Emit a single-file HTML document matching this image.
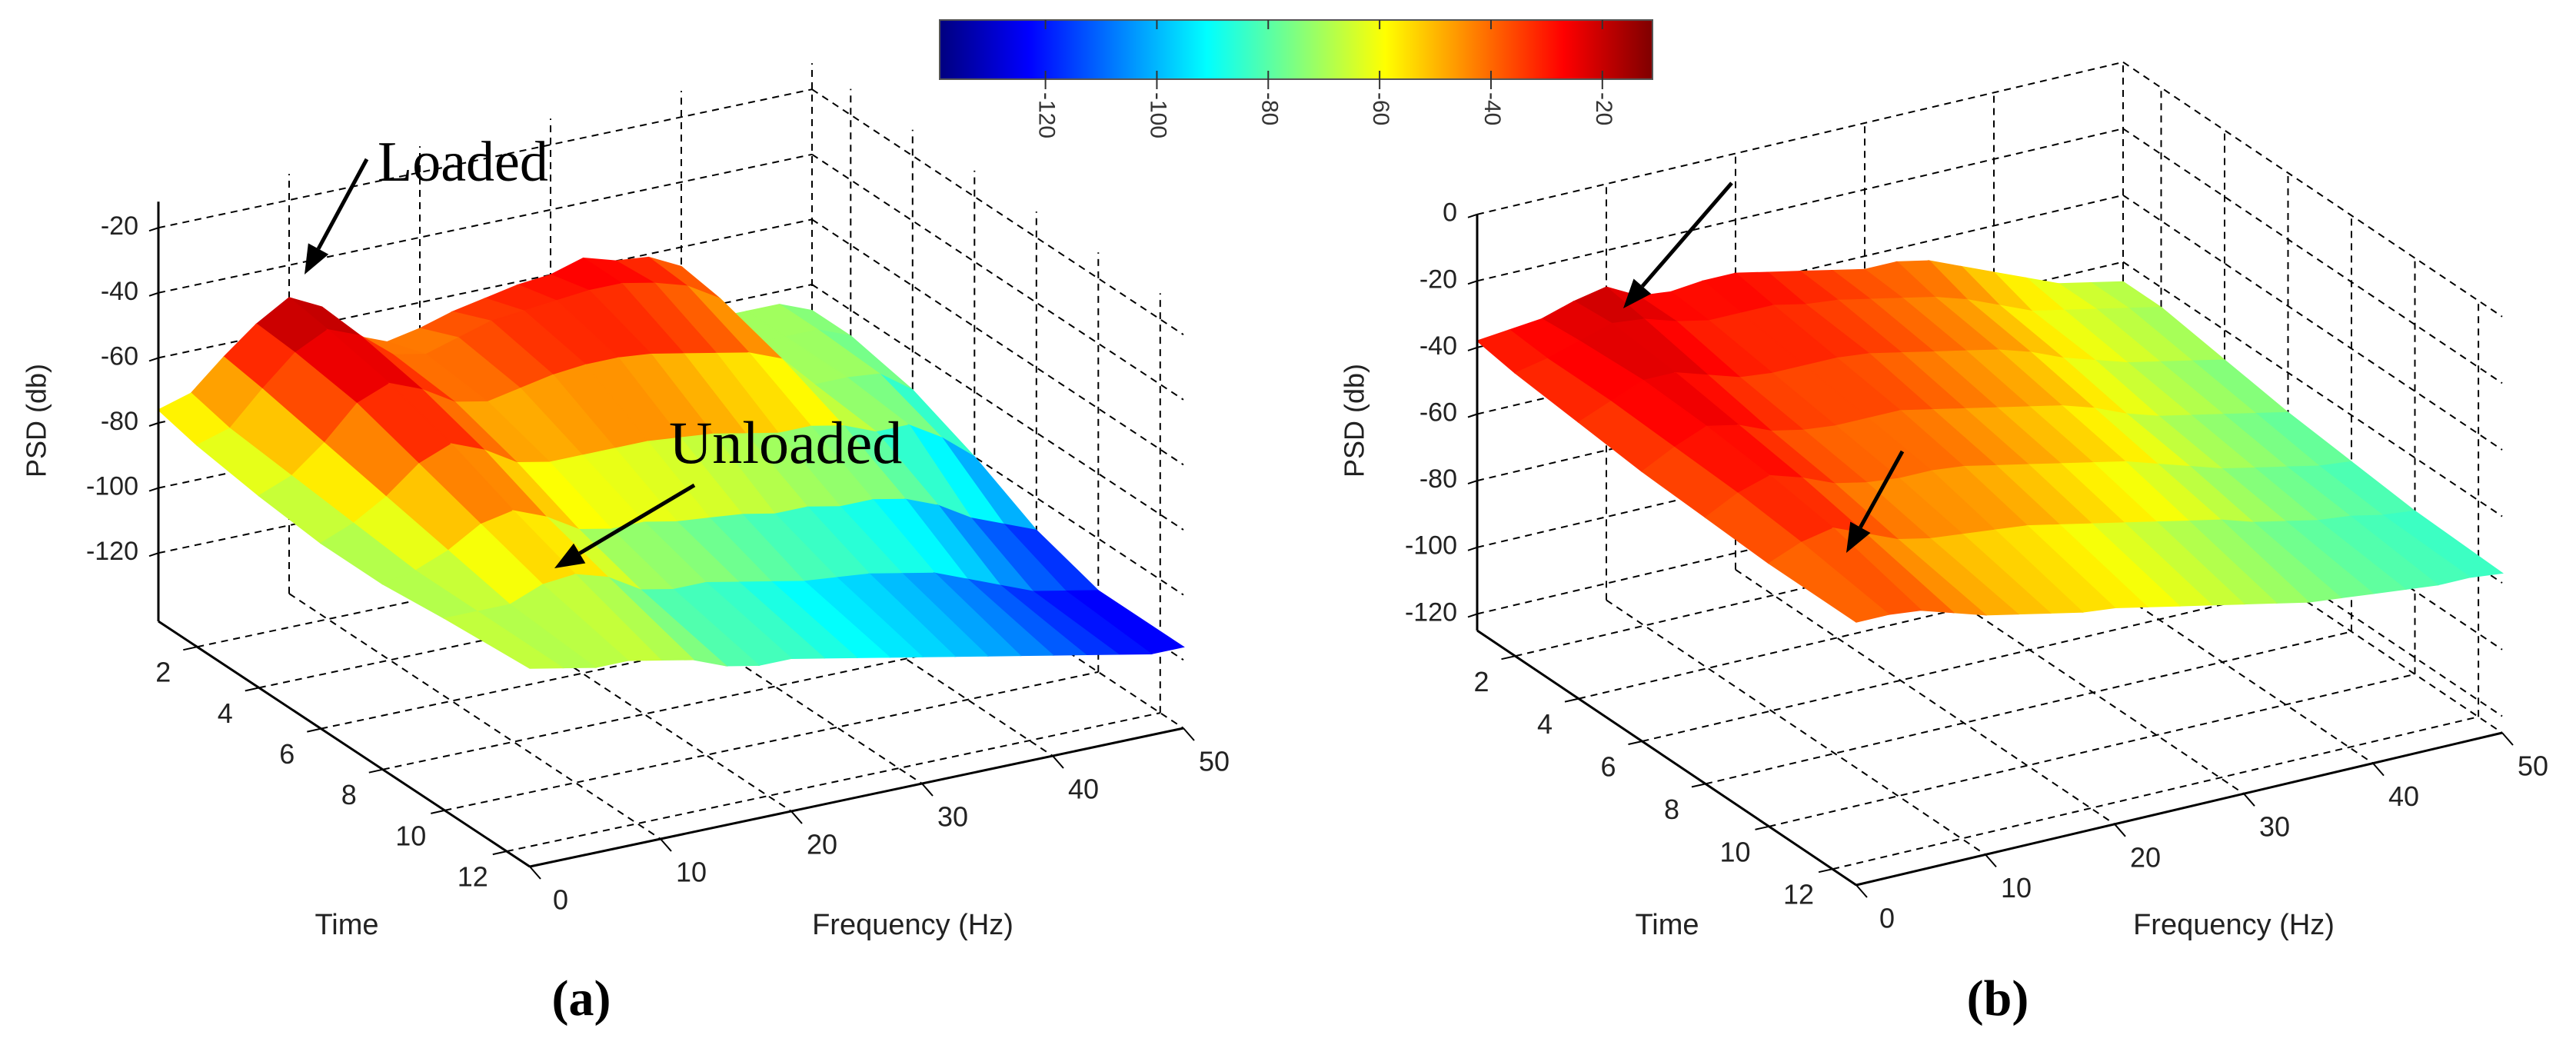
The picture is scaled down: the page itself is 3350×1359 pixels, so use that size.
<!DOCTYPE html>
<html><head><meta charset="utf-8">
<style>
html,body{margin:0;padding:0;background:#fff;}
svg{display:block;font-family:"Liberation Sans",Arial,sans-serif;}
</style></head>
<body>
<svg id="fig" width="3350" height="1359" viewBox="0 0 3350 1359" xmlns="http://www.w3.org/2000/svg">
<defs>
<linearGradient id="jet" x1="0" x2="1" y1="0" y2="0">
<stop offset="0" stop-color="#00007f"/><stop offset="0.125" stop-color="#0000ff"/>
<stop offset="0.375" stop-color="#00ffff"/><stop offset="0.625" stop-color="#ffff00"/>
<stop offset="0.875" stop-color="#ff0000"/><stop offset="1" stop-color="#7f0000"/>
</linearGradient>
</defs>
<g id="colorbar">
<rect x="1222" y="26" width="927" height="77" fill="url(#jet)" stroke="#555" stroke-width="2"/>
</g>
<g id="panelA"></g>
<g id="panelB"></g>
</svg>
<script>
// ---- data ----
const freqs = [0,2.5,5,7.5,10,12.5,15,17.5,20,22.5,25,27.5,30,32.5,35,37.5,40,42.5,45,47.5,50];
const timesA = [0.75,2,4,6,8,10,12.75];
const psdA = [
[-76,-73,-64,-56,-50,-55,-66,-70,-68,-65,-63,-61,-60,-57,-60,-61,-66,-84,-84,-84,-88],
[-79,-76,-66,-57,-52,-56,-64,-66,-63,-60,-59,-58,-57,-57,-59,-62,-68,-84,-84,-84,-88],
[-82,-78,-70,-60,-56,-60,-66,-68,-66,-64,-63,-63,-64,-66,-68,-70,-74,-84,-84,-85,-92],
[-84,-80,-74,-66,-62,-66,-72,-74,-74,-74,-74,-75,-76,-78,-80,-80,-82,-86,-86,-92,-100],
[-84,-82,-78,-72,-70,-74,-80,-82,-82,-84,-85,-86,-88,-88,-90,-90,-92,-96,-102,-106,-110],
[-82,-82,-82,-78,-77,-80,-86,-88,-88,-90,-92,-94,-95,-96,-98,-100,-104,-108,-112,-114,-116],
[-80,-82,-84,-84,-86,-88,-92,-94,-94,-96,-98,-100,-102,-104,-106,-108,-110,-112,-114,-116,-116]
];
const timesB = [0.8,2,4,6,8,10,12.75];
const psdB = [
[-38,-37,-36,-33,-31,-36,-37,-36,-36,-38,-40,-42,-44,-44,-46,-50,-54,-58,-62,-64,-66],
[-40,-38,-35,-32,-33,-36,-38,-38,-38,-40,-41,-43,-45,-47,-50,-54,-58,-60,-62,-64,-66],
[-42,-38,-34,-34,-37,-40,-41,-41,-41,-42,-44,-46,-48,-50,-53,-57,-60,-63,-65,-67,-69],
[-44,-39,-35,-37,-41,-43,-44,-44,-44,-46,-48,-50,-52,-54,-57,-61,-64,-66,-68,-70,-72],
[-45,-40,-37,-40,-44,-46,-47,-47,-48,-50,-52,-54,-56,-58,-61,-64,-67,-69,-71,-73,-74],
[-46,-42,-40,-44,-48,-50,-51,-52,-53,-55,-57,-59,-61,-63,-65,-68,-70,-72,-73,-75,-76],
[-46,-46,-47,-50,-53,-55,-57,-59,-60,-62,-64,-66,-68,-70,-72,-73,-74,-75,-76,-76,-77]
];
const zTicksA = [-20,-40,-60,-80,-100,-120];
const zTicksB = [0,-20,-40,-60,-80,-100,-120];
const timeTicks = [2,4,6,8,10,12];
const freqTicks = [0,10,20,30,40,50];
const cbTicks = [-120,-100,-80,-60,-40,-20];

const NS = "http://www.w3.org/2000/svg";
function mk(parent, tag, attrs){
  const e = document.createElementNS(NS, tag);
  for (const k in attrs) e.setAttribute(k, attrs[k]);
  parent.appendChild(e);
  return e;
}
function jet(x){
  x = Math.max(0, Math.min(1, x));
  const c = v => Math.round(255*Math.max(0, Math.min(1, v)));
  return `rgb(${c(1.5-Math.abs(4*x-3))},${c(1.5-Math.abs(4*x-2))},${c(1.5-Math.abs(4*x-1))})`;
}

const cb = document.getElementById('colorbar');
const cbX = v => 1222 + (v - (-139)) / (128) * 927;
cbTicks.forEach(v => {
  const x = cbX(v);
  const t1 = mk(cb, 'line', {x1:x, y1:26, x2:x, y2:38, stroke:'#333', 'stroke-width':2});
  
  
  const t2 = mk(cb, 'line', {x1:x, y1:92, x2:x, y2:116, stroke:'#333', 'stroke-width':2});
  
  
  const tx = mk(cb, 'text', {x:0, y:0, 'font-size':30, fill:'#333', 'text-anchor':'start', 'dominant-baseline':'middle',
    transform:`translate(${x},${120}) rotate(90)`});
  tx.textContent = String(v);
  
  
});

function drawPanel(g, p, times, psd, zTicks){
  const P = (f,t,z) => {
    const u = (t - p.t0)/(p.t1 - p.t0), v = f/50;
    return [p.ox + v*p.fx + u*p.tx, p.oy + v*p.fy + u*p.ty - (z - p.z0)*p.k];
  };
  const line = (a,b,name,dash,w) => {
    const l = mk(g, 'line', {x1:a[0].toFixed(1), y1:a[1].toFixed(1), x2:b[0].toFixed(1), y2:b[1].toFixed(1),
      stroke:'#000', 'stroke-width':w||2, 'stroke-dasharray':dash?'9,7':'none'});
    
    
  };
  zTicks.forEach(z => line(P(0,p.t0,z), P(50,p.t0,z), 'back-wall-gridline', true));
  freqTicks.slice(1).forEach(f => line(P(f,p.t0,p.z0), P(f,p.t0,p.z1), 'back-wall-vertical', true));
  zTicks.forEach(z => line(P(50,p.t0,z), P(50,p.t1,z), 'side-wall-gridline', true));
  timeTicks.forEach(t => line(P(50,t,p.z0), P(50,t,p.z1), 'side-wall-vertical', true));
  freqTicks.forEach(f => line(P(f,p.t0,p.z0), P(f,p.t1,p.z0), 'floor-gridline-freq', true));
  timeTicks.forEach(t => line(P(0,t,p.z0), P(50,t,p.z0), 'floor-gridline-time', true));

  const sg = mk(g, 'g', {});
  
  
  for (let i = 0; i < times.length-1; i++){
    for (let j = freqs.length-2; j >= 0; j--){
      const z00 = psd[i][j], z01 = psd[i][j+1], z10 = psd[i+1][j], z11 = psd[i+1][j+1];
      const pts = [P(freqs[j],times[i],z00), P(freqs[j+1],times[i],z01), P(freqs[j+1],times[i+1],z11), P(freqs[j],times[i+1],z10)];
      const zm = (z00+z01+z10+z11)/4;
      const col = jet((zm - p.cmin)/(p.cmax - p.cmin));
      const q = mk(sg, 'polygon', {points: pts.map(a=>a[0].toFixed(1)+','+a[1].toFixed(1)).join(' '), fill:col, stroke:col, 'stroke-width':1.5});
      
      
    }
  }
  line(P(0,p.t0,p.z0), P(0,p.t0,p.z1), 'z-axis', false, 3);
  line(P(0,p.t0,p.z0), P(0,p.t1,p.z0), 'time-axis', false, 3);
  line(P(0,p.t1,p.z0), P(50,p.t1,p.z0), 'frequency-axis', false, 3);
  zTicks.forEach(z => {
    const a = P(0,p.t0,z);
    line(a, [a[0]-12, a[1]+4], 'z-tick', false, 2);
    const t = mk(g, 'text', {x:a[0]-26, y:a[1], 'font-size':34, fill:'#222', 'text-anchor':'end', 'dominant-baseline':'middle'});
    t.textContent = String(z);
    
    
  });
  timeTicks.forEach(tv => {
    const a = P(0,tv,p.z0);
    line(a, [a[0]-18, a[1]+4], 'time-tick', false, 2);
    const t = mk(g, 'text', {x:a[0]-44, y:a[1]+36, 'font-size':36, fill:'#222', 'text-anchor':'middle', 'dominant-baseline':'middle'});
    t.textContent = String(tv);
    
    
  });
  freqTicks.forEach(fv => {
    const a = P(fv,p.t1,p.z0);
    line(a, [a[0]+14, a[1]+16], 'freq-tick', false, 2);
    const t = mk(g, 'text', {x:a[0]+40, y:a[1]+46, 'font-size':36, fill:'#222', 'text-anchor':'middle', 'dominant-baseline':'middle'});
    t.textContent = String(fv);
    
    
  });
  let t = mk(g, 'text', {x:0, y:0, 'font-size':36, fill:'#222', 'text-anchor':'middle', 'dominant-baseline':'middle',
    transform:`translate(${p.psdX},547) rotate(-90)`});
  t.textContent = 'PSD (db)';
  
  
  t = mk(g, 'text', {x:p.timeX, y:1205, 'font-size':38, fill:'#222', 'text-anchor':'middle', 'dominant-baseline':'middle'});
  t.textContent = 'Time';
  
  
  t = mk(g, 'text', {x:p.freqX, y:1205, 'font-size':38, fill:'#222', 'text-anchor':'middle', 'dominant-baseline':'middle'});
  t.textContent = 'Frequency (Hz)';
  
  
  t = mk(g, 'text', {x:p.capX, y:1305, 'font-size':66, 'font-weight':'bold', fill:'#000', 'text-anchor':'middle', 'dominant-baseline':'middle',
    'font-family':'"Liberation Serif", serif'});
  t.textContent = '(' + p.cap + ')';
  
  
}

const pa = {ox:206, oy:808, fx:850, fy:-180, tx:483, ty:319, t0:0.75, t1:12.75, z0:-141, z1:-12, k:4.23,
  cmin:-125, cmax:-48, psdX:50, timeX:451, freqX:1187, capX:756, cap:'a'};
const pb = {ox:1921, oy:820, fx:840, fy:-198, tx:493, ty:331, t0:0.8, t1:12.75, z0:-125, z1:0, k:4.33,
  cmin:-115, cmax:-25, psdX:1764, timeX:2168, freqX:2905, capX:2598, cap:'b'};
const gA = document.getElementById('panelA'), gB = document.getElementById('panelB');
drawPanel(gA, pa, timesA, psdA, zTicksA);
drawPanel(gB, pb, timesB, psdB, zTicksB);

function arrow(g, x1,y1,x2,y2,name){
  const ang = Math.atan2(y2-y1, x2-x1), L = 38, W = 15;
  const bx = x2 - L*Math.cos(ang), by = y2 - L*Math.sin(ang);
  const l = mk(g, 'line', {x1:x1, y1:y1, x2:bx, y2:by, stroke:'#000', 'stroke-width':5});
  
  
  const px = -Math.sin(ang), py = Math.cos(ang);
  const h = mk(g, 'polygon', {points:`${x2},${y2} ${bx+px*W},${by+py*W} ${bx-px*W},${by-py*W}`, fill:'#000'});
  
  
}
arrow(gA, 477, 207, 396, 357, 'loaded-arrow');
arrow(gA, 903, 631, 721, 739, 'unloaded-arrow');
arrow(gB, 2252, 238, 2111, 401, 'loaded-arrow-b');
arrow(gB, 2474, 587, 2401, 719, 'unloaded-arrow-b');
let ta = mk(gA, 'text', {x:491, y:218, 'font-size':74, fill:'#000', 'dominant-baseline':'middle',
  'font-family':'"Liberation Serif", serif'});
ta.textContent = 'Loaded';


ta = mk(gA, 'text', {x:870, y:584, 'font-size':78, fill:'#000', 'dominant-baseline':'middle',
  'font-family':'"Liberation Serif", serif'});
ta.textContent = 'Unloaded';


</script>
</body></html>
